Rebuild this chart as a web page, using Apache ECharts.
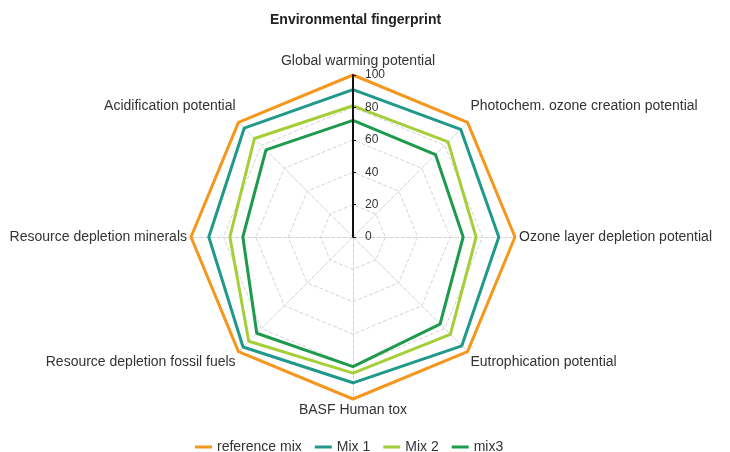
<!DOCTYPE html>
<html>
<head>
<meta charset="utf-8">
<script src="https://cdn.jsdelivr.net/npm/echarts@6/dist/echarts.min.js"></script>
<style>
  html, body { margin: 0; padding: 0; background: #fff; }
  #chart { width: 730px; height: 452px; }
</style>
</head>
<body>
<div id="chart"></div>
<script>
  // indicators listed clockwise from the top, as in the picture
  const indicators = [
    'Global warming potential',
    'Photochem. ozone creation potential',
    'Ozone layer depletion potential',
    'Eutrophication potential',
    'BASF Human tox',
    'Resource depletion fossil fuels',
    'Resource depletion minerals',
    'Acidification potential',
  ];
  const referenceMix = [100, 100, 100, 100, 100, 100, 100, 100];
  const mix1 = [91, 94, 90, 95, 90, 96, 89, 95];
  const mix2 = [81, 83, 76, 85, 84, 91, 76, 86];
  const mix3 = [72, 72, 68, 76, 80, 84, 68, 76];
  const axisTicks = [0, 20, 40, 60, 80, 100];

  const seriesNames = ['reference mix', 'Mix 1', 'Mix 2', 'mix3'];
  const colors = ['#f5961d', '#20998a', '#a6ce39', '#1e9a4c'];

  // echarts lays radar indicators out counter-clockwise, so flip the order
  const ccw = (arr) => [arr[0]].concat(arr.slice(1).reverse());

  // labels on the diagonals sit above / below the corner like in excel
  const upper = ['Photochem. ozone creation potential', 'Acidification potential'];
  const lower = ['Eutrophication potential', 'Resource depletion fossil fuels'];

  const font = 'Liberation Sans';
  const myChart = echarts.init(document.getElementById('chart'));
  const option = {
    animation: false,
    title: {
      text: 'Environmental fingerprint',
      left: 270,
      top: 13,
      padding: 0,
      textStyle: { fontSize: 14, fontWeight: 'bold', color: '#222', fontFamily: font },
    },
    legend: {
      top: 440,
      left: 195,
      padding: 0,
      icon: 'rect',
      itemWidth: 17,
      itemHeight: 3,
      itemGap: 13,
      textStyle: { fontSize: 14, color: '#333', fontFamily: font },
      data: seriesNames,
    },
    radar: {
      center: [353, 237],
      radius: 162,
      shape: 'polygon',
      splitNumber: 5,
      nameGap: 4,
      indicator: ccw(indicators).map((n) => ({ name: n, min: 0, max: 100 })),
      axisName: {
        color: '#333',
        fontSize: 14,
        fontFamily: font,
        formatter: (name) => {
          if (upper.includes(name)) return '{up|' + name + '}';
          if (lower.includes(name)) return '{down|' + name + '}';
          if (name === indicators[0]) return '{top|' + name + '}';
          return name;
        },
        rich: {
          up: { fontSize: 14, color: '#333', fontFamily: font, padding: [0, 0, 26, 0] },
          down: { fontSize: 14, color: '#333', fontFamily: font, padding: [16, 0, 0, 0] },
          top: { fontSize: 14, color: '#333', fontFamily: font, padding: [0, 0, 3, 10] },
        },
      },
      axisLine: { lineStyle: { color: '#d4d4d4', type: 'dashed' } },
      splitLine: { lineStyle: { color: '#d4d4d4', type: 'dashed' } },
      splitArea: { show: false },
    },
    // vertical value axis drawn along the top spoke
    grid: { left: 353, top: 75, width: 1, height: 162 },
    xAxis: { type: 'value', show: false },
    yAxis: {
      type: 'value',
      min: axisTicks[0],
      max: axisTicks[axisTicks.length - 1],
      interval: 20,
      axisLine: { show: true, lineStyle: { color: '#111', width: 2 } },
      axisTick: { show: true, inside: true, length: 3, lineStyle: { color: '#111' } },
      axisLabel: { inside: true, margin: 12, fontSize: 12, color: '#333', fontFamily: font },
      splitLine: { show: false },
      z: 10,
    },
    series: [
      {
        type: 'radar',
        symbol: 'none',
        data: [referenceMix, mix1, mix2, mix3].map((v, i) => ({
          name: seriesNames[i],
          value: ccw(v),
          lineStyle: { color: colors[i], width: 3 },
          itemStyle: { color: colors[i] },
        })),
      },
    ],
  };
  myChart.setOption(option);
</script>
</body>
</html>
